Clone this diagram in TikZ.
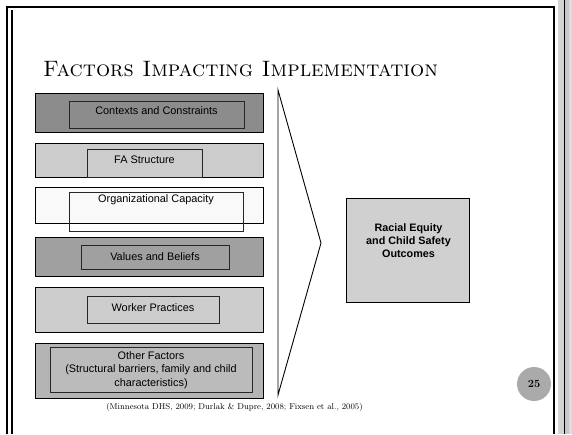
\documentclass[tikz,border=0pt]{standalone}
\usepackage{fontspec}
\newfontfamily\boxfont{Liberation Sans}
\usepackage{tikz}
\usetikzlibrary{positioning}
\definecolor{bordergray}{RGB}{212,212,212}
\definecolor{bandgray}{RGB}{200,200,200}
\definecolor{ctxgray}{RGB}{140,140,140}
\definecolor{fagray}{RGB}{204,204,204}
\definecolor{orgwhite}{RGB}{249,249,249}
\definecolor{valgray}{RGB}{160,160,160}
\definecolor{wrkgray}{RGB}{205,205,205}
\definecolor{othgray}{RGB}{180,180,180}
\definecolor{outgray}{RGB}{208,208,208}
\definecolor{numgray}{RGB}{170,170,170}
\tikzset{
  outbox/.style={rectangle, draw=black, line width=0.9pt, anchor=north west,
    inner sep=0pt},
  inbox/.style={rectangle, draw=black!85, line width=0.7pt, anchor=north west,
    inner sep=0pt},
  boxtext/.style={font=\boxfont\fontsize{10.9}{13.5}\selectfont, align=center,
    inner sep=0pt},
  resultbox/.style={rectangle, draw=black, line width=1.4pt, fill=outgray,
    anchor=north west, inner sep=0pt}
}

\begin{document}
\begin{tikzpicture}[x=1pt, y=-1pt]
\useasboundingbox (0,0) rectangle (572,434);
\fill[white] (0,0) rectangle (572,434);
% frame of the slide
\fill[bordergray] (558,0) rectangle (563.5,434);
\fill[bandgray] (564.5,0) rectangle (569,434);
\fill[bordergray!80] (569,0) rectangle (572,434);
\draw[line width=1.8pt] (554,7) -- (554,434);
\draw[line width=0.9pt] (564,0) -- (564,434);
\draw[line width=1.4pt] (7,434) -- (7,7) -- (554.9,7);
\draw[line width=1.1pt] (12,434) -- (12,10);
% title
\node[anchor=base west, inner sep=0pt, font=\fontsize{22.3}{26}\selectfont]
  (title) at (43,76) {\textsc{Factors Impacting Implementation}};
% factor rows
\node[outbox, fill=ctxgray, minimum width=228, minimum height=39] (ctxrow) at (35,93) {};
\node[inbox, fill=ctxgray, minimum width=175, minimum height=27] (ctxbox) at (69,101) {};
\node[boxtext] (ctx) at (156.5,111) {Contexts and Constraints};

\node[outbox, fill=fagray, minimum width=228, minimum height=34] (farow) at (35,143) {};
\node[inbox, fill=fagray, minimum width=115, minimum height=28] (fabox) at (87,149) {};
\node[boxtext] (fa) at (144.5,160) {FA Structure};

\node[outbox, fill=orgwhite, minimum width=228, minimum height=36] (orgrow) at (35,187) {};
\node[inbox, minimum width=174, minimum height=39] (orgbox) at (69,192) {};
\node[boxtext] (org) at (156,200) {Organizational Capacity};

\node[outbox, fill=valgray, minimum width=228, minimum height=39] (valrow) at (35,237) {};
\node[inbox, fill=valgray, minimum width=148, minimum height=24] (valbox) at (81,245) {};
\node[boxtext] (val) at (155,256.5) {Values and Beliefs};

\node[outbox, fill=wrkgray, minimum width=228, minimum height=45] (wrkrow) at (35,287) {};
\node[inbox, fill=wrkgray, minimum width=132, minimum height=27] (wrkbox) at (87,296) {};
\node[boxtext] (wrk) at (153,307.5) {Worker Practices};

\node[outbox, fill=othgray, minimum width=228, minimum height=55] (othrow) at (35,343) {};
\node[inbox, fill=othgray!90!white, minimum width=202, minimum height=45] (othbox) at (50,347) {};
\node[boxtext] (oth) at (151,370) {Other Factors\\(Structural barriers, family and child\\characteristics)};
% chevron pointing to the outcome
\draw[line width=0.9pt, line join=miter] (278,90) -- (321,243) -- (278,395) -- cycle;
% outcome
\node[resultbox, minimum width=123, minimum height=104] (outcome) at (346,198) {};
\node[boxtext, font=\boxfont\bfseries\fontsize{10.8}{13}\selectfont]
  (outtext) at (408.5,241) {Racial Equity\\and Child Safety\\Outcomes};
% slide number and source line
\node[circle, fill=numgray, minimum size=34, inner sep=0pt,
  font=\bfseries\fontsize{11}{12}\selectfont] (pagenum) at (534,384) {25};
\node[inner sep=0pt, font=\fontsize{8.5}{10}\selectfont] (source) at (234.5,407)
  {(Minnesota DHS, 2009; Durlak \& Dupre, 2008; Fixsen et al., 2005)};
\end{tikzpicture}
\end{document}
